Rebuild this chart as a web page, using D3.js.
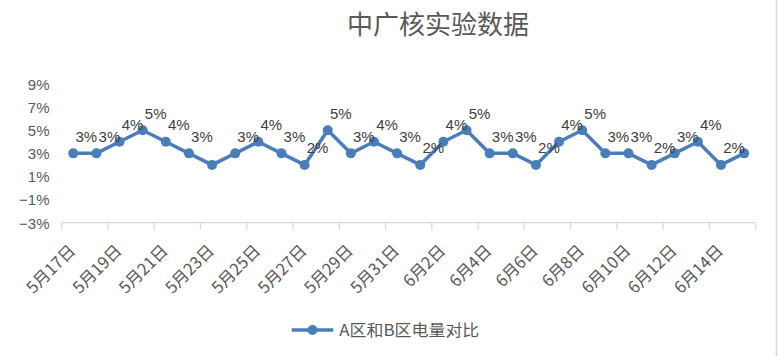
<!DOCTYPE html>
<html>
<head>
<meta charset="utf-8">
<script src="https://cdn.jsdelivr.net/npm/d3@7"></script>
<style>
  html, body { margin: 0; padding: 0; background: #fff; }
  svg { display: block; }
</style>
</head>
<body>
<svg id="chart" width="778" height="356"></svg>
<script>
// ---- data ----
const categories = [
  "5月17日","5月18日","5月19日","5月20日","5月21日","5月22日","5月23日","5月24日",
  "5月25日","5月26日","5月27日","5月28日","5月29日","5月30日","5月31日",
  "6月1日","6月2日","6月3日","6月4日","6月5日","6月6日","6月7日","6月8日",
  "6月9日","6月10日","6月11日","6月12日","6月13日","6月14日","6月15日"
];
const values = [3,3,4,5,4,3,2,3,4,3,2,5,3,4,3,2,4,5,3,3,2,4,5,3,3,2,3,4,2,3];
const hiddenLabels = [6, 29];           // indices whose data label is not shown
const yTicks = [-3,-1,1,3,5,7,9];
const seriesName = "A区和B区电量对比";
const title = "中广核实验数据";

// ---- layout ----
const W = 778, H = 356;
const plot = { left: 61.7, right: 755.7, top: 84, bottom: 222.7 };
const color = "#4a7ebb";
const latin = "'Liberation Sans', Arial, sans-serif";
const cjk = "'Noto Sans CJK SC', 'Noto Sans', sans-serif";

const svg = d3.select("#chart");
svg.append("rect").attr("width", W).attr("height", H).attr("fill", "#fff");
svg.append("line").attr("x1", 776.5).attr("x2", 776.5).attr("y1", 0).attr("y2", H)
  .attr("stroke", "#d9d9d9").attr("stroke-width", 1.5);

const x = d3.scaleBand().domain(categories).range([plot.left, plot.right]).padding(0);
const y = d3.scaleLinear().domain([-3, 9]).range([plot.bottom, plot.top]);
const cx = d => x(d) + x.bandwidth() / 2;

// title
svg.append("text").attr("x", 438).attr("y", 34).attr("text-anchor", "middle")
  .attr("font-family", cjk).attr("font-size", 26).attr("fill", "#595959").text(title);

// y axis labels (no line)
const yAxis = d3.axisLeft(y).tickValues(yTicks).tickSize(0).tickPadding(0)
  .tickFormat(d => (d < 0 ? "\u2212" + Math.abs(d) : d) + "%");
const gy = svg.append("g").attr("transform", `translate(49.5,0)`).call(yAxis);
gy.select(".domain").remove();
gy.selectAll("text").attr("font-family", latin).attr("font-size", 15).attr("fill", "#595959")
  .attr("dy", "0.36em");

// x axis
const gx = svg.append("g").attr("transform", `translate(0,${plot.bottom})`);
gx.append("line").attr("x1", plot.left).attr("x2", plot.right).attr("y1", 0).attr("y2", 0)
  .attr("stroke", "#d9d9d9").attr("stroke-width", 1.3);
const tickIdx = d3.range(0, categories.length + 1, 2);
gx.selectAll("line.tick").data(tickIdx).join("line").attr("class", "tick")
  .attr("x1", i => plot.left + i * x.step()).attr("x2", i => plot.left + i * x.step())
  .attr("y1", 0).attr("y2", 7).attr("stroke", "#d9d9d9").attr("stroke-width", 1.3);
const labelCats = categories.filter((c, i) => i % 2 === 0);
gx.selectAll("text.xl").data(labelCats).join("text").attr("class", "xl")
  .attr("transform", d => `translate(${cx(d) - 1},${25}) rotate(-45)`)
  .attr("text-anchor", "end").attr("dy", "0.35em")
  .attr("font-family", cjk).attr("font-size", 16.5).attr("fill", "#595959").text(d => d);

// line
const line = d3.line().x((d, i) => cx(categories[i])).y(d => y(d));
svg.append("path").datum(values).attr("d", line).attr("fill", "none")
  .attr("stroke", color).attr("stroke-width", 3.5).attr("stroke-linejoin", "round");
svg.selectAll("circle.pt").data(values).join("circle").attr("class", "pt")
  .attr("cx", (d, i) => cx(categories[i])).attr("cy", d => y(d)).attr("r", 5)
  .attr("fill", color);

// data labels
svg.selectAll("text.dl").data(values.map((v, i) => ({ v, i })).filter(d => !hiddenLabels.includes(d.i)))
  .join("text").attr("class", "dl")
  .attr("x", d => cx(categories[d.i]) + 13).attr("y", d => y(d.v) - 17)
  .attr("dy", "0.36em").attr("text-anchor", "middle")
  .attr("font-family", latin).attr("font-size", 15).attr("fill", "#404040")
  .text(d => d.v + "%");

// legend
const lg = svg.append("g");
lg.append("line").attr("x1", 291.7).attr("x2", 333.3).attr("y1", 330).attr("y2", 330)
  .attr("stroke", color).attr("stroke-width", 3.5);
lg.append("circle").attr("cx", 312.5).attr("cy", 330).attr("r", 5).attr("fill", color);
lg.append("text").attr("x", 339.3).attr("y", 330).attr("dy", "0.36em")
  .attr("font-family", cjk).attr("font-size", 15.5).attr("fill", "#595959")
  .attr("textLength", 140).attr("lengthAdjust", "spacingAndGlyphs").text(seriesName);
</script>
</body>
</html>
